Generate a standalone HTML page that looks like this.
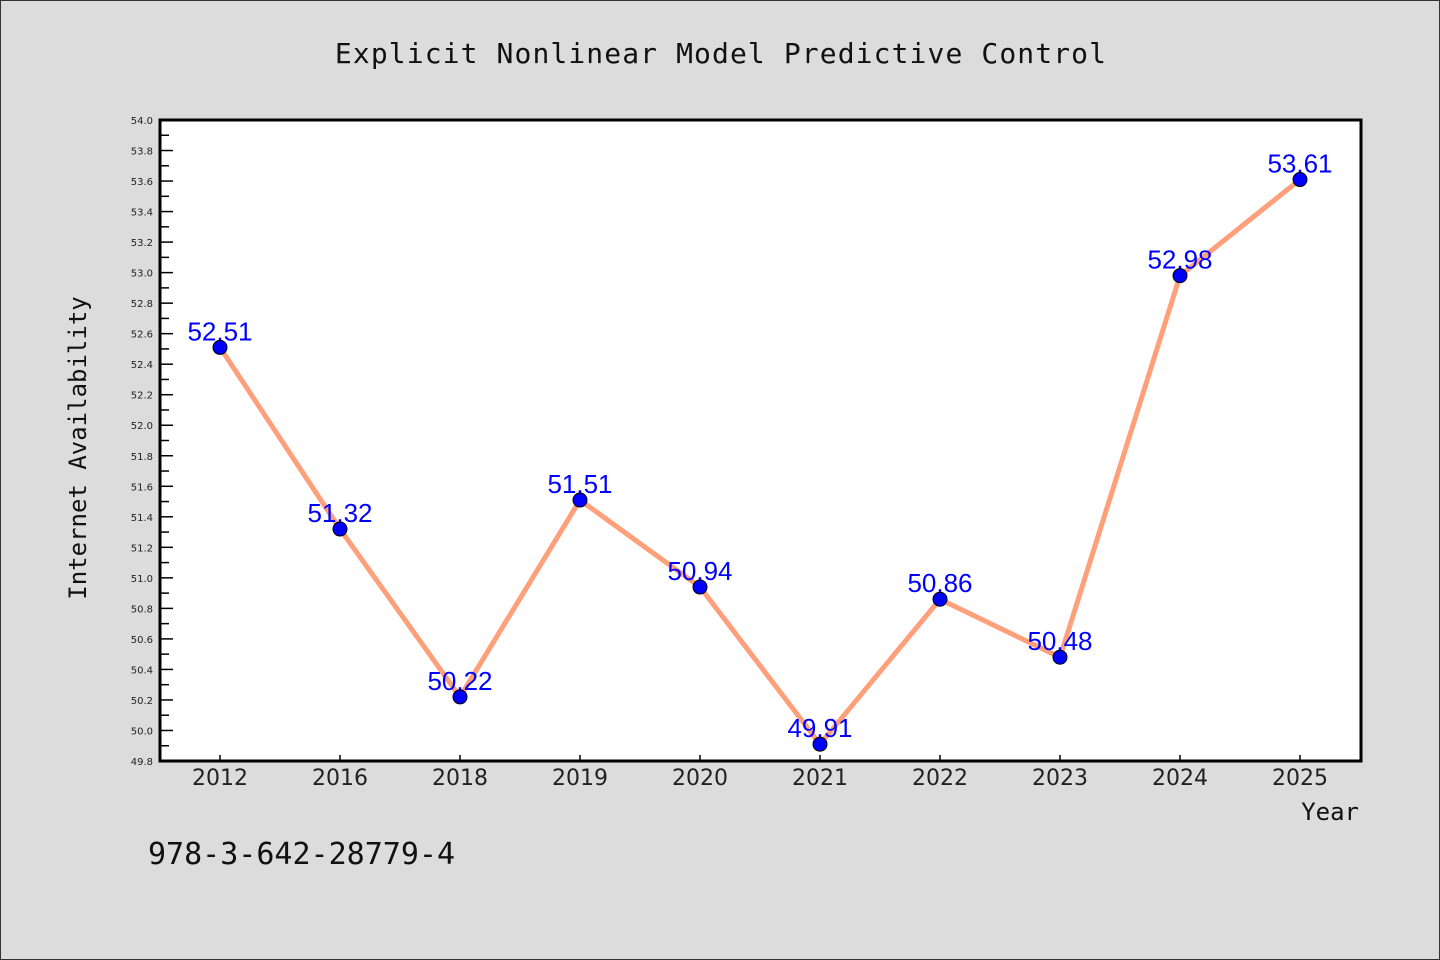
<!DOCTYPE html>
<html><head><meta charset="utf-8"><style>
body{margin:0;background:#dcdcdc;}
svg{display:block;}
</style></head><body>
<svg id="chart" width="1440" height="960" xmlns="http://www.w3.org/2000/svg">
<rect x="0.5" y="0.5" width="1439" height="959" fill="#dcdcdc" stroke="#333"/>
<text x="721" y="63" text-anchor="middle" letter-spacing="1.1" font-family="'DejaVu Sans Mono','Liberation Mono',monospace" font-size="28" fill="#111">Explicit Nonlinear Model Predictive Control</text>
<rect x="160" y="120" width="1201" height="641" fill="#fff"/>
<g id="yticks"></g><g id="xticks"></g>
<g id="series"></g>
<rect x="160" y="120" width="1201" height="641" fill="none" stroke="#000" stroke-width="3"/>
<text transform="translate(86,448) rotate(-90)" text-anchor="middle" font-family="'DejaVu Sans Mono','Liberation Mono',monospace" font-size="24" fill="#111">Internet Availability</text>
<text x="1359" y="820" text-anchor="end" font-family="'DejaVu Sans Mono','Liberation Mono',monospace" font-size="24" fill="#111">Year</text>
<text x="148" y="864" font-family="'DejaVu Sans Mono','Liberation Mono',monospace" font-size="30" fill="#111">978-3-642-28779-4</text>
</svg>
<script>
const categories=["2012","2016","2018","2019","2020","2021","2022","2023","2024","2025"];
const values=[52.51,51.32,50.22,51.51,50.94,49.91,50.86,50.48,52.98,53.61];
const yTickLabels=["49.8","50.0","50.2","50.4","50.6","50.8","51.0","51.2","51.4","51.6","51.8","52.0","52.2","52.4","52.6","52.8","53.0","53.2","53.4","53.6","53.8","54.0"];
const NS="http://www.w3.org/2000/svg";
const yMin=49.8,yMax=54.0,yTop=120,yBot=761;
function yS(v){return yBot-(v-yMin)/(yMax-yMin)*(yBot-yTop);}
function xS(i){return 220+i*120;}
function mk(t,a,p){const e=document.createElementNS(NS,t);for(const k in a)e.setAttribute(k,a[k]);p.appendChild(e);return e;}
const yt=document.getElementById('yticks');
yTickLabels.forEach(l=>{const v=parseFloat(l),y=yS(v);
 const ln=mk('line',{x1:160,x2:173,y1:y,y2:y,stroke:'#000','stroke-width':1.5},yt);
 
 
 const t=mk('text',{x:153,y:y+4,'text-anchor':'end','font-family':"'DejaVu Sans',sans-serif",'font-size':10,fill:'#222'},yt);
 t.textContent=l;
 
 
 if(v<yMax-0.01){const ym=yS(v+0.1);const m=mk('line',{x1:160,x2:169,y1:ym,y2:ym,stroke:'#000','stroke-width':1.5},yt);
 
 }
});
const xt=document.getElementById('xticks');
categories.forEach((c,i)=>{const x=xS(i);
 const ln=mk('line',{x1:x,x2:x,y1:yBot,y2:yBot-6,stroke:'#000','stroke-width':1.5},xt);
 
 
 const t=mk('text',{x:x,y:785,'text-anchor':'middle','font-family':"'DejaVu Sans',sans-serif",'font-size':22,fill:'#222'},xt);
 t.textContent=c;
 
 
});
const s=document.getElementById('series');
const pts=values.map((v,i)=>xS(i)+','+yS(v)).join(' ');
const pl=mk('polyline',{points:pts,fill:'none',stroke:'#FFA07A','stroke-width':5,'stroke-linejoin':'round'},s);


values.forEach((v,i)=>{
 const t=mk('text',{x:xS(i),y:yS(v)-7,'text-anchor':'middle','font-family':"'Liberation Sans',sans-serif",'font-size':26,fill:'#0000ff'},s);
 t.textContent=v.toFixed(2);
 
 
});
values.forEach((v,i)=>{
 const c=mk('circle',{cx:xS(i),cy:yS(v),r:7,fill:'#0000ff',stroke:'#000','stroke-width':1},s);
 
 
});
</script>
</body></html>
